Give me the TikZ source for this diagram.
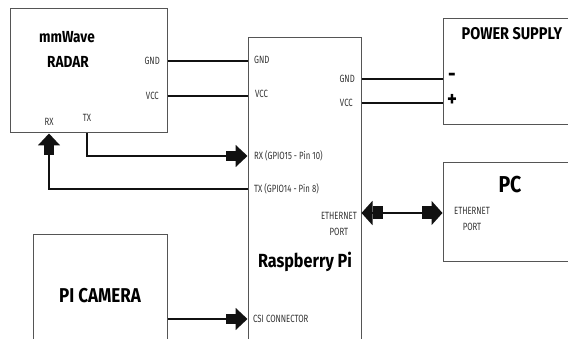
\documentclass[tikz,border=0pt]{standalone}
\usepackage{fontspec}
\setmainfont{Fira Sans}[FakeStretch=0.85]
\newfontfamily\pinfont{Fira Sans}[FakeStretch=0.74]
\usepackage{tikz}
\usetikzlibrary{arrows.meta}
\definecolor{boxgray}{HTML}{555555}
\definecolor{wireblack}{HTML}{111111}
\definecolor{pintext}{HTML}{333333}
\tikzset{
  unit/.style={rectangle,draw=boxgray,line width=1pt,inner sep=0pt},
  title/.style={font=\bfseries\fontsize{#1}{#1}\selectfont,inner sep=0pt},
  pin/.style={font=\pinfont\fontsize{10.5}{16}\selectfont,text=pintext,inner sep=0pt,align=center},
  wire/.style={line width=2pt,draw=wireblack},
  bigarrow/.style={wire,-{Rectangle[length=10pt,width=10pt]Triangle[length=12pt,width=22pt]}},
  bothbig/.style={wire,{Triangle[length=11pt,width=24pt]Rectangle[length=10pt,width=13pt]}-{Rectangle[length=10pt,width=13pt]Triangle[length=11pt,width=24pt]}}
}

\begin{document}
\begin{tikzpicture}[x=1pt,y=-1pt]
\useasboundingbox (0,0) rectangle (568,339);
\clip (0,0) rectangle (568,339);
% boxes
\node[unit,minimum width=157pt,minimum height=124pt] (radar) at (88.5,71) {};
\node[unit,minimum width=113pt,minimum height=320pt] (pi) at (304.5,198) {};
\node[unit,minimum width=160pt,minimum height=106pt] (supply) at (523,72) {};
\node[unit,minimum width=160pt,minimum height=99pt] (pc) at (523,212.5) {};
\node[unit,minimum width=134pt,minimum height=130pt] (camera) at (100,300) {};
% radar
\node[title=16] (radarname) at (67,37) {mmWave};
\node[title=16] (radartype) at (68,62) {RADAR};
\node[pin,anchor=east] (rgnd) at (160,61) {GND};
\node[pin,anchor=east] (rvcc) at (159,96) {VCC};
\node[pin] (rrx) at (49,122) {RX};
\node[pin] (rtx) at (87,118) {TX};
% raspberry pi
\node[pin,anchor=west] (pgnd) at (254,60) {GND};
\node[pin,anchor=west] (pvcc) at (255,94) {VCC};
\node[pin,anchor=east] (pgndr) at (355,79) {GND};
\node[pin,anchor=east] (pvccr) at (353,103) {VCC};
\node[pin,anchor=west] (prx) at (254,156) {RX (GPIO15 - Pin 10)};
\node[pin,anchor=west] (ptx) at (254,189) {TX (GPIO14 - Pin 8)};
\node[pin,anchor=east] (peth) at (357,224) {ETHERNET\\PORT};
\node[title=19] (piname) at (305,262) {Raspberry Pi};
\node[pin,anchor=west] (pcsi) at (253,319) {CSI CONNECTOR};
% power supply
\node[title=17] (supplyname) at (512,34) {POWER SUPPLY};
\node[title=22] (minus) at (452,77) {-};
\node[title=22] (plus) at (452,100) {+};
% pc
\node[title=23] (pcname) at (510,185) {PC};
\node[pin] (pceth) at (472,219) {ETHERNET\\PORT};
\coordinate (ethlink) at (400,213);
% camera
\node[title=20] (camname) at (100,296) {PI CAMERA};
% wiring
\draw[wire] (radar.east |- rgnd) -- (pi.west |- rgnd);
\draw[wire] (radar.east |- rvcc) -- (pi.west |- rvcc);
\draw[wire] (pi.east |- pgndr) -- (supply.west |- pgndr);
\draw[wire] (pi.east |- pvccr) -- (supply.west |- pvccr);
\draw[bigarrow] (rtx |- radar.south) |- (pi.west |- prx);
\draw[bigarrow] (pi.west |- ptx) -| (rrx |- radar.south);
\draw[bothbig] (pi.east |- ethlink) -- (pc.west |- ethlink);
\draw[bigarrow] (camera.east |- pcsi) -- (pi.west |- pcsi);
\end{tikzpicture}
\end{document}
